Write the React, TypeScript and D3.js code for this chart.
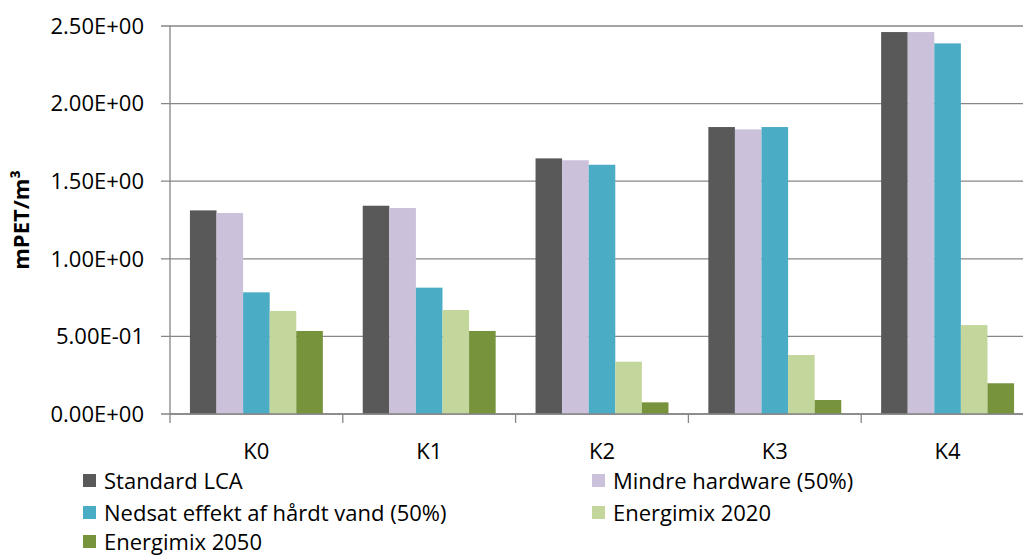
import React from 'react';
import * as d3 from 'd3';

const categories = ['K0', 'K1', 'K2', 'K3', 'K4'];
const seriesNames = [
  'Standard LCA',
  'Mindre hardware (50%)',
  'Nedsat effekt af hårdt vand (50%)',
  'Energimix 2020',
  'Energimix 2050',
];
const seriesColors = ['#595959', '#CCC1DA', '#4BACC6', '#C3D69B', '#77933C'];

// one array per series, values per category K0..K4
const standardLca = [1.312, 1.342, 1.647, 1.849, 2.461];
const mindreHardware = [1.295, 1.327, 1.635, 1.834, 2.461];
const nedsatEffekt = [0.784, 0.814, 1.606, 1.849, 2.388];
const energimix2020 = [0.664, 0.67, 0.337, 0.38, 0.573];
const energimix2050 = [0.535, 0.535, 0.075, 0.09, 0.198];
const seriesValues = [standardLca, mindreHardware, nedsatEffekt, energimix2020, energimix2050];

const yTicks = [0, 0.5, 1, 1.5, 2, 2.5];

const W = 1023;
const H = 557;
const FONT = '"Open Sans", sans-serif';
const FS = 22;

export default function App() {
  const left = 170, right = 1034, top = 26, bottom = 414;

  const y = d3.scaleLinear().domain([0, 2.5]).range([bottom, top]);
  const x0 = d3.scaleBand<string>().domain(categories).range([left, right]).padding(0);
  const bw = x0.bandwidth();
  // Excel gap width 150%: bar width = band / (n + 1.5)
  const barW = bw / (seriesNames.length + 1.5);
  const x1 = d3
    .scaleBand<number>()
    .domain(d3.range(seriesNames.length))
    .range([barW * 0.75, bw - barW * 0.75])
    .padding(0);

  const fmt = (v: number) => {
    const s = v.toExponential(2).toUpperCase(); // e.g. 2.50E+0
    return s.replace(/E([+-])(\d)$/, 'E$10$2');
  };

  const legendRows = [
    { i: 0, x: 83, y: 481 },
    { i: 1, x: 592, y: 481 },
    { i: 2, x: 83, y: 513 },
    { i: 3, x: 592, y: 513 },
    { i: 4, x: 83, y: 542 },
  ];

  return (
    <>
      <style>{`body{margin:0;overflow:hidden}`}</style>
      <svg width={W} height={H} style={{ display: 'block', background: '#fff' }} fontFamily={FONT}>
        {/* gridlines + y ticks */}
        {yTicks.map(t => (
          <g key={t}>
            <line x1={161} x2={W} y1={y(t)} y2={y(t)} stroke="#868686" strokeWidth={1.3} />
            <text x={144} y={y(t)} dy="0.35em" textAnchor="end" fontSize={FS} fill="#000">
              {fmt(t)}
            </text>
          </g>
        ))}

        {/* bars */}
        {categories.map((c, ci) => (
          <g key={c} transform={`translate(${x0(c)},0)`}>
            {seriesValues.map((vals, si) => (
              <rect
                key={si}
                x={x1(si)}
                y={y(vals[ci])}
                width={x1.bandwidth()}
                height={y(0) - y(vals[ci])}
                fill={seriesColors[si]}
              />
            ))}
          </g>
        ))}

        {/* axes */}
        <line x1={left} x2={left} y1={top} y2={bottom} stroke="#868686" strokeWidth={1.3} />
        <line x1={left} x2={W} y1={bottom} y2={bottom} stroke="#868686" strokeWidth={1.3} />
        {[left, ...categories.map(c => (x0(c) as number) + bw)].map((tx, i) => (
          <line key={i} x1={tx} x2={tx} y1={bottom} y2={bottom + 9} stroke="#868686" strokeWidth={1.3} />
        ))}
        {categories.map(c => (
          <text
            key={c}
            x={(x0(c) as number) + bw / 2}
            y={459}
            textAnchor="middle"
            fontSize={FS}
            fill="#000"
          >
            {c}
          </text>
        ))}

        {/* y label */}
        <text
          transform={`translate(29,${(top + bottom) / 2}) rotate(-90)`}
          textAnchor="middle"
          fontSize={FS}
          fontWeight="bold"
          fill="#000"
        >
          mPET/m³
        </text>

        {/* legend */}
        {legendRows.map(r => (
          <g key={r.i}>
            <rect x={r.x} y={r.y - 7} width={13} height={13} fill={seriesColors[r.i]} />
            <text x={r.x + 21} y={r.y} dy="0.35em" fontSize={FS} fill="#000">
              {seriesNames[r.i]}
            </text>
          </g>
        ))}
      </svg>
    </>
  );
}
